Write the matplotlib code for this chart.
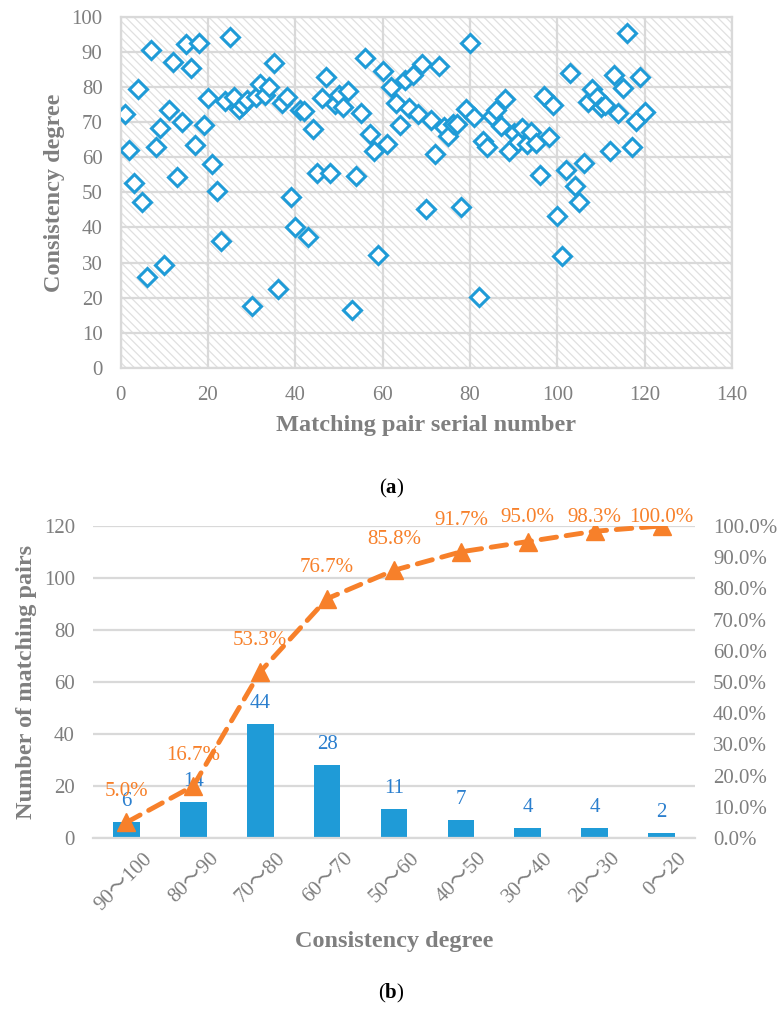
import matplotlib
matplotlib.use('Agg')
import matplotlib.pyplot as plt
from matplotlib.patches import Rectangle
from matplotlib.transforms import ScaledTranslation

# panel (a): consistency degree of each matching pair
serial = list(range(1, 121))
consistency = [
    72.2, 62.1, 52.7, 79.3, 47.4, 25.8, 90.4, 62.8, 68.4, 29.2,
    73.4, 87.2, 54.4, 70.0, 92.2, 85.4, 63.6, 92.4, 69.2, 76.9,
    58.2, 50.3, 36.2, 76.1, 94.2, 77.2, 73.6, 75.0, 76.3, 17.6,
    77.2, 80.8, 77.8, 79.9, 86.9, 22.6, 75.3, 77.2, 48.8, 40.2,
    73.4, 73.1, 37.4, 67.9, 55.4, 76.8, 82.9, 55.4, 75.1, 77.7,
    74.4, 78.9, 16.5, 54.7, 72.7, 88.2, 66.6, 61.9, 32.2, 84.5,
    63.7, 79.9, 75.3, 69.2, 82.0, 73.9, 83.4, 72.2, 86.4, 45.2,
    70.6, 60.8, 86.0, 68.7, 66.0, 69.6, 69.4, 45.9, 73.7, 92.4,
    71.5, 20.3, 64.7, 63.0, 71.7, 73.4, 68.9, 76.6, 61.9, 67.0,
    64.4, 68.4, 63.8, 67.3, 64.1, 54.9, 77.5, 65.8, 75.0, 43.4,
    32.0, 56.4, 84.1, 51.9, 47.4, 58.4, 75.8, 79.3, 77.2, 74.2,
    75.0, 61.8, 83.4, 72.5, 79.6, 95.3, 62.8, 70.4, 82.9, 72.8,
]

# panel (b): histogram of consistency ranges + cumulative share
ranges = ['90～100', '80～90', '70～80', '60～70', '50～60',
          '40～50', '30～40', '20～30', '0～20']
pair_counts = [6, 14, 44, 28, 11, 7, 4, 4, 2]
cum_percent = [5.0, 16.7, 53.3, 76.7, 85.8, 91.7, 95.0, 98.3, 100.0]

SERIF = ['Liberation Serif', 'Noto Sans CJK SC', 'DejaVu Serif']
GREY = '#7f7f7f'
GRID = '#d9d9d9'
BLUE = '#1f9bd7'
LBLUE = '#2b7fce'
ORANGE = '#f7802a'
TICK_FS = 15
TITLE_FS = 17.5

plt.rcParams['font.family'] = SERIF
plt.rcParams['mathtext.fontset'] = 'custom'
plt.rcParams['mathtext.rm'] = 'Liberation Serif'
plt.rcParams['mathtext.bf'] = 'Liberation Serif:bold'
plt.rcParams['hatch.linewidth'] = 0.9

fig = plt.figure(figsize=(7.83, 10.13), dpi=100)

# ---- (a) scatter ----
ax1 = fig.add_axes([0.1541, 0.6367, 0.7808, 0.3468])
ax1.add_patch(Rectangle((0, 0), 1, 1, transform=ax1.transAxes, fill=False,
                        hatch='\\\\\\\\', edgecolor='#e0e0e0', lw=0, zorder=0))
ax1.plot(serial, consistency, ls='none', marker='D', ms=9.5, mfc='white',
         mec=BLUE, mew=2.2, zorder=3)
ax1.set_xlim(0, 140)
ax1.set_ylim(0, 100)
ax1.set_xticks(range(0, 141, 20))
ax1.set_yticks(range(0, 101, 10))
ax1.grid(True, color=GRID, lw=1.6, zorder=1)
ax1.set_axisbelow(True)
for s in ax1.spines.values():
    s.set_color(GRID)
    s.set_linewidth(1.6)
ax1.tick_params(length=0, colors=GREY, labelsize=TICK_FS)
ax1.tick_params(axis='y', pad=13)
ax1.tick_params(axis='x', pad=13)
ax1.set_xlabel('Matching pair serial number', fontsize=TITLE_FS, fontweight='bold',
               color=GREY, labelpad=7)
ax1.set_ylabel('Consistency degree', fontsize=TITLE_FS, fontweight='bold',
               color=GREY, labelpad=5)
fig.text(0.5, 1 - 488 / 1013, r'($\mathbf{a}$)', ha='center', va='center',
         fontsize=15, color='black')

# ---- (b) bars + cumulative line ----
ax2 = fig.add_axes([0.1188, 0.1727, 0.7688, 0.3081])
x = range(len(ranges))
bars = ax2.bar(x, pair_counts, width=0.4, color=BLUE, zorder=2)
ax2.set_xlim(-0.5, len(ranges) - 0.5)
ax2.set_ylim(0, 120)
ax2.set_yticks(range(0, 121, 20))
ax2.yaxis.grid(True, color=GRID, lw=1.6, zorder=0)
ax2.set_axisbelow(True)
for side in ['top', 'left', 'right']:
    ax2.spines[side].set_visible(False)
ax2.spines['bottom'].set_color(GRID)
ax2.spines['bottom'].set_linewidth(1.6)
ax2.tick_params(length=0, colors=GREY, labelsize=TICK_FS)
ax2.tick_params(axis='y', pad=13)
ax2.set_xticks(list(x))
ax2.set_xticklabels(ranges, rotation=45, ha='right', rotation_mode='anchor')
ax2.tick_params(axis='x', pad=8)
shift = ScaledTranslation(0.16, 0, fig.dpi_scale_trans)
for lbl in ax2.get_xticklabels():
    lbl.set_transform(lbl.get_transform() + shift)
for b, n in zip(bars, pair_counts):
    ax2.annotate(str(n), (b.get_x() + b.get_width() / 2, n), xytext=(0, 8),
                 textcoords='offset points', ha='center', va='bottom',
                 color=LBLUE, fontsize=15)
ax2.set_xlabel('Consistency degree', fontsize=TITLE_FS, fontweight='bold',
               color=GREY, labelpad=12)
ax2.set_ylabel('Number of matching pairs', fontsize=TITLE_FS, fontweight='bold',
               color=GREY, labelpad=5)

ax3 = ax2.twinx()
ax3.set_ylim(0, 100)
ax3.set_yticks(range(0, 101, 10))
ax3.set_yticklabels(['%.1f%%' % v for v in range(0, 101, 10)])
for s in ax3.spines.values():
    s.set_visible(False)
ax3.tick_params(length=0, colors=GREY, labelsize=TICK_FS, pad=13)
ax3.plot(list(x), cum_percent, color=ORANGE, lw=3.5, ls=(0, (3.2, 2.0)),
         dash_capstyle='round', marker='^', ms=13, mfc=ORANGE, mec=ORANGE,
         zorder=4)
# percentage labels sit above each point but are kept just under the top edge
for i, p in zip(x, cum_percent):
    ax3.text(i, min(p + 9.9, 102.6), '%.1f%%' % p, ha='center', va='center',
             color=ORANGE, fontsize=15, clip_on=False)
fig.text(0.5, 1 - 993 / 1013, r'($\mathbf{b}$)', ha='center', va='center',
         fontsize=15, color='black')

fig.savefig('out.png', dpi=100)
